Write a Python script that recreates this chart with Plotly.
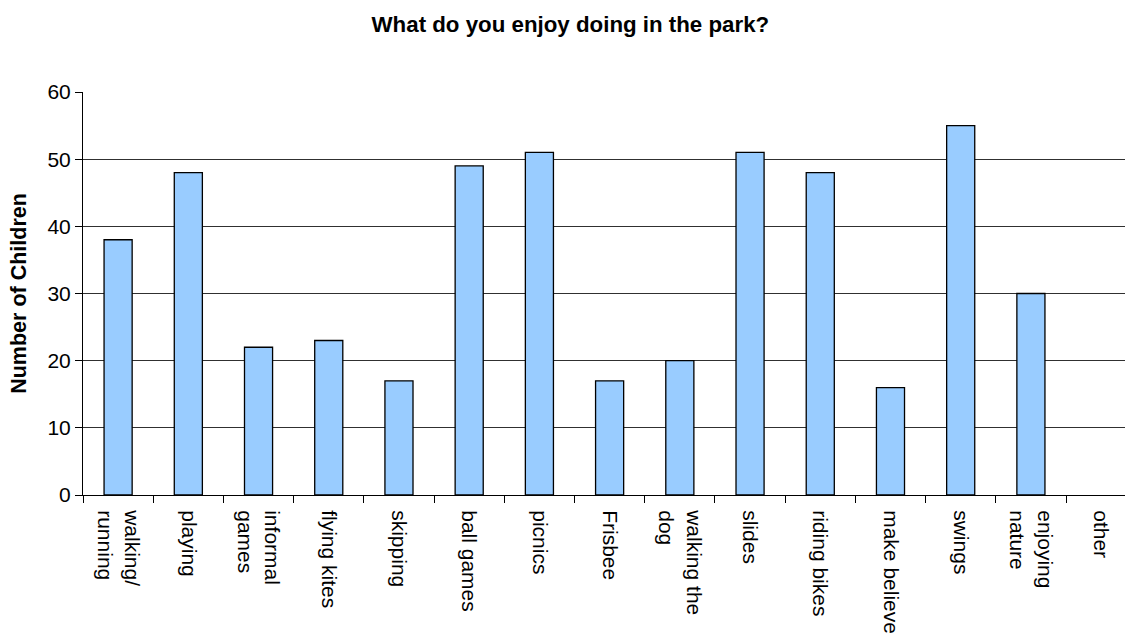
import plotly.graph_objects as go

categories = ["walking/<br>running", "playing", "informal<br>games", "flying kites", "skipping",
              "ball games", "picnics", "Frisbee", "walking the<br>dog", "slides",
              "riding bikes", "make believe", "swings", "enjoying<br>nature", "other"]
values = [38, 48, 22, 23, 17, 49, 51, 17, 20, 51, 48, 16, 55, 30, 0]
y_ticks = [0, 10, 20, 30, 40, 50, 60]

FONT = "Liberation Sans, Arial, sans-serif"

outline_widths = [1.3 if v > 0 else 0 for v in values]

fig = go.Figure(go.Bar(
    x=categories, y=values,
    marker=dict(color="#99CCFF", line=dict(color="#000000", width=outline_widths)),
    width=0.4,
))

fig.update_layout(
    width=1125, height=639,
    margin=dict(l=83, r=0, t=92, b=144),
    paper_bgcolor="white", plot_bgcolor="white",
    showlegend=False,
    font=dict(family=FONT, size=21, color="black"),
    title=dict(text="<b>What do you enjoy doing in the park?</b>", x=0.507, xanchor="center",
               y=0.962, yanchor="middle", font=dict(family=FONT, size=22.3, color="black")),
)
fig.update_xaxes(
    type="category", range=[-0.5, 14.34],
    tickson="boundaries", ticks="outside", ticklen=7, tickcolor="black", tickwidth=1,
    showline=True, linecolor="black", linewidth=1,
    showgrid=False, tickangle=90, ticklabelstandoff=10,
    tickfont=dict(family=FONT, size=21, color="black"),
)
fig.update_yaxes(
    range=[0, 60], tickvals=y_ticks, ticks="outside", ticklen=7, tickcolor="black",
    showline=True, linecolor="black", linewidth=1,
    showgrid=True, gridcolor="#303030", gridwidth=1, zeroline=False,
    tickfont=dict(family=FONT, size=21, color="black"),
    title=dict(text="<b>Number of Children</b>", font=dict(family=FONT, size=21.5, color="black"), standoff=14),
)

fig.write_html("out.html")
